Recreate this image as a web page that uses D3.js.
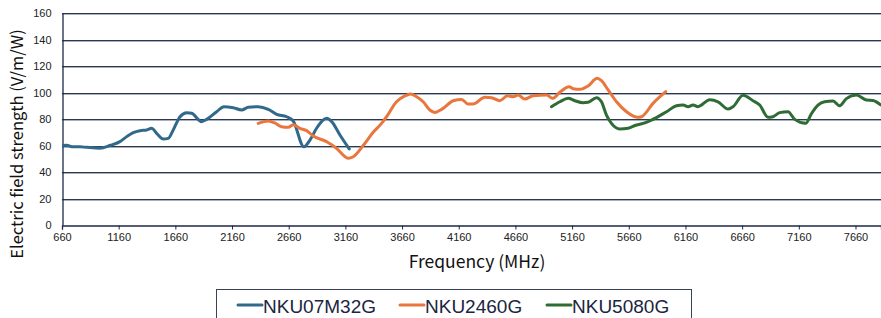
<!DOCTYPE html>
<html>
<head>
<meta charset="utf-8">
<script src="https://cdn.jsdelivr.net/npm/d3@7"></script>
<style>
  html, body { margin: 0; padding: 0; background: #fff; }
  svg { display: block; }
  .tick text { font-family: "Liberation Sans", Arial, sans-serif; font-size: 11px; fill: #222; }
</style>
</head>
<body>
<div id="chart"></div>
<script>
// ---- data ----
const SERIES_NAMES = ["NKU07M32G", "NKU2460G", "NKU5080G"];
const SERIES_COLORS = ["#31698b", "#e9773d", "#2f6c35"];

const blueFreq = [660, 701, 757, 819, 878, 995, 1083, 1171, 1231, 1289, 1348, 1407, 1451, 1495, 1553, 1597, 1641, 1701, 1760, 1804, 1892, 1936, 2024, 2089, 2171, 2245, 2303, 2391, 2480, 2554, 2642, 2700, 2794, 2847, 2906, 2995, 3039, 3112, 3194];
const blueVal  = [60, 60.2, 59, 59, 58.6, 58, 60, 62.9, 66.7, 69.7, 71.2, 71.7, 73, 69.2, 64.9, 65.4, 71.7, 81.7, 84.8, 84.3, 78, 79.7, 85.5, 89.3, 88.5, 86.8, 88.8, 89.3, 87.3, 83.5, 81.7, 78.5, 59, 64, 73, 80.5, 78, 67.9, 57.4];

const orangeFreq = [2391, 2479, 2538, 2597, 2656, 2700, 2759, 2818, 2876, 2994, 3082, 3141, 3185, 3229, 3317, 3405, 3479, 3523, 3611, 3685, 3735, 3788, 3846, 3905, 3949, 4022, 4111, 4185, 4243, 4287, 4390, 4449, 4522, 4590, 4640, 4684, 4743, 4816, 4934, 4987, 5052, 5134, 5169, 5228, 5301, 5381, 5419, 5478, 5552, 5640, 5742, 5772, 5874, 5986];
const orangeVal  = [76.7, 78.5, 77, 74.2, 73.7, 75.7, 73, 71.2, 67.2, 62.9, 57.9, 52.8, 50.3, 51.5, 60, 70, 76.7, 81.7, 93, 97.4, 98.9, 96.8, 93, 86.8, 85, 88, 93.8, 94.8, 91.3, 91.3, 96.4, 96.1, 93.8, 97.6, 96.8, 98.1, 95.1, 97.6, 98.1, 95.6, 100.2, 104.4, 102.9, 102.4, 104.9, 110.7, 108.9, 101.9, 93, 85.5, 81.3, 81.7, 91.8, 100.6];

const greenFreq = [4978, 5052, 5125, 5184, 5257, 5301, 5375, 5419, 5463, 5507, 5581, 5654, 5728, 5786, 5860, 5993, 6081, 6139, 6183, 6227, 6271, 6374, 6447, 6536, 6580, 6668, 6756, 6815, 6888, 6932, 6991, 7065, 7124, 7221, 7271, 7329, 7388, 7462, 7521, 7580, 7668, 7756, 7814, 7882];
const greenVal  = [89.3, 93, 95.6, 93.8, 92.3, 92.6, 96.1, 93, 83, 76.7, 72.5, 73, 75.5, 76.7, 79.2, 85.5, 90, 90.6, 89.3, 90.6, 89.3, 94.5, 93, 87.5, 89.3, 98, 93.8, 90.6, 81.3, 81.7, 84.8, 85.5, 79.7, 76.7, 84, 90.5, 93, 93.5, 90, 95.4, 98.1, 94.3, 94, 90.6];

const xTicks = [660, 1160, 1660, 2160, 2660, 3160, 3660, 4160, 4660, 5160, 5660, 6160, 6660, 7160, 7660];
const yTicks = [0, 20, 40, 60, 80, 100, 120, 140, 160];

// ---- layout ----
const W = 881, H = 318;
const plot = { left: 62, right: 881, top: 13, bottom: 225 };

const svg = d3.select("#chart").append("svg")
  .attr("width", W).attr("height", H);

const x = d3.scaleLinear().domain([660, 7885]).range([plot.left, plot.right]);
const y = d3.scaleLinear().domain([0, 160]).range([plot.bottom, plot.top]);

// gridlines (dark line with a soft grey shadow beneath)
const grid = svg.append("g");
yTicks.filter(v => v > 0).forEach(v => {
  const yy = Math.round(y(v));
  grid.append("line")
    .attr("x1", plot.left).attr("x2", plot.right)
    .attr("y1", yy + 1.5).attr("y2", yy + 1.5)
    .attr("stroke", "#a9b0bd").attr("stroke-width", 1);
  grid.append("line")
    .attr("x1", plot.left).attr("x2", plot.right)
    .attr("y1", yy + 0.5).attr("y2", yy + 0.5)
    .attr("stroke", "#2c3752").attr("stroke-width", 1);
});

// axes
svg.append("g")
  .attr("transform", `translate(0,${plot.bottom + 0.5})`)
  .call(d3.axisBottom(x).tickValues(xTicks).tickSize(4).tickPadding(4).tickFormat(d3.format("d")))
  .call(g => g.select(".domain").attr("stroke", "#1e2a48").attr("stroke-width", 1.3))
  .call(g => g.selectAll(".tick line").attr("stroke", "#1e2a48"));

svg.append("g")
  .attr("transform", `translate(${plot.left + 0.5},0)`)
  .call(d3.axisLeft(y).tickValues(yTicks).tickSize(0).tickPadding(11))
  .call(g => g.select(".domain").attr("stroke", "#1e2a48").attr("stroke-width", 1.3));

// clip so the cut-off right edge behaves like the picture
svg.append("defs").append("clipPath").attr("id", "plotclip")
  .append("rect")
  .attr("x", plot.left).attr("y", 0)
  .attr("width", plot.right - plot.left).attr("height", plot.bottom);

const line = d3.line()
  .x(d => x(d[0]))
  .y(d => y(d[1]))
  .curve(d3.curveMonotoneX);

const seriesData = [
  d3.zip(blueFreq, blueVal),
  d3.zip(orangeFreq, orangeVal),
  d3.zip(greenFreq, greenVal)
];

const lines = svg.append("g").attr("clip-path", "url(#plotclip)");
seriesData.forEach((pts, i) => {
  lines.append("path")
    .attr("d", line(pts))
    .attr("fill", "none")
    .attr("stroke", SERIES_COLORS[i])
    .attr("stroke-width", 3)
    .attr("stroke-linejoin", "round")
    .attr("stroke-linecap", "round");
});

// axis titles
svg.append("text")
  .attr("transform", "translate(23,144) rotate(-90)")
  .attr("text-anchor", "middle")
  .style("font-family", "'Noto Sans CJK JP', 'Noto Sans', sans-serif")
  .style("font-size", "16.5px")
  .style("fill", "#111")
  .text("Electric field strength (V/m/W)");

svg.append("text")
  .attr("x", 477).attr("y", 268)
  .attr("text-anchor", "middle")
  .style("font-family", "'Noto Sans CJK JP', 'Noto Sans', sans-serif")
  .style("font-size", "17.5px")
  .style("fill", "#111")
  .text("Frequency (MHz)");

// legend
const legend = svg.append("g");
legend.append("rect")
  .attr("x", 216.5).attr("y", 289.5)
  .attr("width", 475).attr("height", 40)
  .attr("fill", "#fff")
  .attr("stroke", "#3a4258").attr("stroke-width", 1);

const legendX = [238, 400, 547];
SERIES_NAMES.forEach((name, i) => {
  legend.append("line")
    .attr("x1", legendX[i]).attr("x2", legendX[i] + 24)
    .attr("y1", 305).attr("y2", 305)
    .attr("stroke", SERIES_COLORS[i]).attr("stroke-width", 3)
    .attr("stroke-linecap", "round");
  legend.append("text")
    .attr("x", legendX[i] + 25).attr("y", 312.5)
    .style("font-family", "'Liberation Sans', Arial, sans-serif")
    .style("font-size", "19px")
    .style("fill", "#1b2540")
    .text(name);
});
</script>
</body>
</html>
